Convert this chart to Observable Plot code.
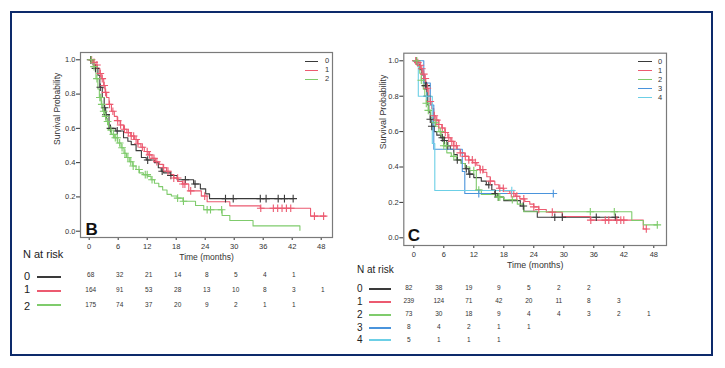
<!DOCTYPE html>
<html><head><meta charset="utf-8">
<script src="https://cdn.jsdelivr.net/npm/d3@7"></script>
<script src="https://cdn.jsdelivr.net/npm/@observablehq/plot@0.6"></script>
<style>
body{margin:0;background:#fff;font-family:"Liberation Sans",Arial,sans-serif;}
#root{position:relative;width:725px;height:368px;overflow:hidden;background:#fff;}
#border{position:absolute;left:10px;top:11px;width:703px;height:345px;border:2px solid #0d2a6b;box-sizing:border-box;}
.lab{position:absolute;white-space:nowrap;line-height:1;color:#222;}
.ln{position:absolute;}
</style></head><body><div id="root"><div id="border"></div></div>
<script>
// ---------- data ----------
const timeTicks = [0, 6, 12, 18, 24, 30, 36, 42, 48];
const survTicks = [0, 0.2, 0.4, 0.6, 0.8, 1.0];
const groupsB = ["0", "1", "2"];
const groupsC = ["0", "1", "2", "3", "4"];
const colorsB = ["#3a3a3a", "#ec5a70", "#7fcb6c"];
const colorsC = ["#3a3a3a", "#ec5a70", "#7fcb6c", "#4a94dc", "#6ccfe6"];

// Panel B Kaplan-Meier steps (time in months, survival), censor times
const b0T = [0, 0.8, 1.3, 1.8, 2.2, 2.7, 3.1, 3.4, 4.1, 5.5, 7.1, 8.0, 8.7, 9.7, 10.8, 11.8, 13.5, 14.3, 14.9, 15.4, 16.8, 18.2, 21.6, 23.0, 24.1, 24.9, 42.3];
const b0S = [1, 0.97, 0.95, 0.91, 0.84, 0.78, 0.72, 0.68, 0.60, 0.585, 0.545, 0.525, 0.505, 0.47, 0.43, 0.415, 0.40, 0.37, 0.35, 0.34, 0.325, 0.30, 0.275, 0.247, 0.218, 0.19, 0.19];
const b0C = [0.3, 1.3, 2.3, 3.2, 3.5, 4.4, 5.8, 12.1, 15.1, 16.9, 19.9, 21.9, 28.2, 29.8, 35.4, 36.6, 39.1, 40.4, 42.2];

const b1T = [0, 0.7, 1.2, 1.7, 2.2, 2.6, 3.0, 3.3, 3.6, 4.1, 4.6, 5.2, 5.8, 6.4, 7.1, 7.8, 8.6, 9.4, 10.0, 10.7, 11.4, 12.2, 13.0, 13.7, 14.5, 15.3, 16.0, 16.8, 17.5, 18.4, 19.3, 20.6, 23.2, 24.4, 29.1, 35.4, 45.8, 48.9];
const b1S = [1, 0.985, 0.97, 0.95, 0.92, 0.89, 0.85, 0.81, 0.78, 0.74, 0.70, 0.67, 0.645, 0.62, 0.595, 0.575, 0.555, 0.535, 0.51, 0.49, 0.465, 0.445, 0.425, 0.405, 0.39, 0.37, 0.35, 0.33, 0.31, 0.29, 0.275, 0.235, 0.205, 0.172, 0.148, 0.134, 0.088, 0.088];
const b1C = [0.5, 1.0, 1.6, 2.3, 2.7, 3.1, 3.4, 4.2, 4.9, 5.9, 6.5, 7.3, 8.1, 8.7, 9.2, 9.7, 10.1, 11.0, 12.0, 12.5, 13.4, 14.0, 15.4, 16.3, 17.5, 18.3, 19.4, 19.8, 21.0, 23.9, 35.5, 38.1, 39.0, 39.9, 40.8, 41.7, 46.6, 48.5];

const b2T = [0, 0.5, 0.9, 1.4, 1.8, 2.1, 2.5, 2.8, 3.2, 3.5, 4.0, 4.6, 5.2, 5.9, 6.6, 7.2, 7.7, 8.3, 9.0, 9.7, 10.4, 11.2, 12.1, 12.8, 13.5, 14.4, 15.2, 16.1, 17.0, 18.2, 19.4, 22.0, 23.7, 27.5, 29.1, 33.9, 43.6];
const b2S = [1, 0.99, 0.96, 0.89, 0.83, 0.78, 0.74, 0.70, 0.67, 0.64, 0.59, 0.565, 0.545, 0.515, 0.487, 0.455, 0.43, 0.405, 0.38, 0.36, 0.34, 0.33, 0.32, 0.30, 0.28, 0.26, 0.24, 0.215, 0.205, 0.193, 0.175, 0.15, 0.125, 0.092, 0.062, 0.031, 0.005];
const b2C = [0.4, 1.0, 1.6, 2.2, 2.4, 2.6, 3.0, 3.4, 3.8, 4.5, 5.0, 5.4, 5.8, 6.3, 6.8, 7.4, 8.0, 8.6, 9.1, 10.3, 11.6, 12.0, 13.0, 18.3, 19.5, 24.4, 25.1, 27.4];

// Panel C
const c0T = [0, 0.7, 1.2, 1.6, 2.0, 2.3, 2.6, 2.8, 3.0, 3.3, 3.6, 4.1, 4.6, 5.4, 6.0, 6.6, 7.3, 8.0, 8.7, 9.5, 10.3, 11.0, 12.0, 13.5, 14.5, 15.6, 16.2, 16.8, 18.0, 21.3, 22.0, 24.7, 41.0];
const c0S = [1, 0.98, 0.95, 0.92, 0.89, 0.86, 0.80, 0.75, 0.71, 0.67, 0.63, 0.60, 0.58, 0.565, 0.55, 0.52, 0.50, 0.47, 0.44, 0.42, 0.39, 0.36, 0.34, 0.32, 0.30, 0.27, 0.25, 0.23, 0.21, 0.18, 0.15, 0.116, 0.116];
const c0C = [0.5, 2.3, 2.5, 2.7, 3.3, 3.6, 5.7, 6.1, 6.8, 8.7, 10.5, 11.2, 15.0, 16.3, 16.9, 21.9, 28.2, 29.7, 36.5, 40.3];

const c1T = [0, 0.6, 1.0, 1.4, 1.8, 2.1, 2.4, 2.7, 3.0, 3.3, 3.6, 4.0, 4.4, 5.0, 5.6, 6.2, 6.8, 7.4, 8.0, 8.7, 9.3, 10.2, 11.0, 11.8, 12.6, 13.2, 13.9, 14.6, 15.3, 16.2, 17.0, 18.0, 19.2, 20.3, 21.2, 22.2, 23.2, 24.0, 25.0, 26.5, 29.7, 35.3, 45.9, 46.6];
const c1S = [1, 0.99, 0.975, 0.955, 0.925, 0.90, 0.875, 0.845, 0.80, 0.77, 0.73, 0.69, 0.665, 0.64, 0.62, 0.595, 0.565, 0.545, 0.52, 0.50, 0.48, 0.46, 0.44, 0.425, 0.41, 0.385, 0.37, 0.345, 0.32, 0.30, 0.28, 0.265, 0.25, 0.235, 0.22, 0.205, 0.19, 0.175, 0.16, 0.145, 0.12, 0.10, 0.05, 0.05];
const c1C = [0.4, 0.8, 1.3, 1.6, 2.0, 2.3, 2.7, 3.3, 4.1, 4.6, 5.0, 5.7, 6.3, 7.0, 7.6, 8.0, 8.5, 9.3, 10.3, 11.0, 11.7, 12.3, 13.3, 13.8, 15.3, 17.2, 17.9, 19.5, 20.0, 20.6, 22.0, 24.0, 25.0, 27.7, 35.4, 38.3, 39.0, 40.6, 41.4, 42.0, 46.5];

const c2T = [0, 0.8, 1.2, 1.5, 1.9, 2.2, 2.5, 2.9, 3.4, 3.9, 4.4, 5.0, 5.6, 6.0, 6.6, 7.5, 8.5, 9.5, 10.3, 11.2, 12.5, 13.5, 16.5, 18.0, 20.7, 22.0, 43.6, 45.9, 48.7];
const c2S = [1, 0.97, 0.93, 0.89, 0.84, 0.80, 0.76, 0.72, 0.68, 0.65, 0.63, 0.60, 0.57, 0.52, 0.48, 0.46, 0.44, 0.42, 0.40, 0.38, 0.27, 0.245, 0.23, 0.215, 0.19, 0.147, 0.098, 0.073, 0.073];
const c2C = [0.6, 1.5, 2.5, 2.9, 4.3, 5.3, 6.0, 6.5, 8.0, 12.0, 13.0, 16.9, 17.2, 19.7, 35.3, 40.1, 48.7];

const c3T = [0, 2.0, 3.3, 4.0, 9.7, 10.2, 27.9];
const c3S = [1, 0.875, 0.75, 0.5, 0.375, 0.25, 0.25];
const c3C = [13.0, 27.9];

const c4T = [0, 0.9, 3.7, 4.2, 19.6];
const c4S = [1, 0.8, 0.533, 0.267, 0.267];
const c4C = [2.6, 19.6];

// Numbers at risk (at 0, 6, 12, ... months)
const riskB0 = [68, 32, 21, 14, 8, 5, 4, 1];
const riskB1 = [164, 91, 53, 28, 13, 10, 8, 3, 1];
const riskB2 = [175, 74, 37, 20, 9, 2, 1, 1];
const riskC0 = [82, 38, 19, 9, 5, 2, 2];
const riskC1 = [239, 124, 71, 42, 20, 11, 8, 3];
const riskC2 = [73, 30, 18, 9, 4, 4, 3, 2, 1];
const riskC3 = [8, 4, 2, 1, 1];
const riskC4 = [5, 1, 1, 1];

// ---------- helpers ----------
const steps = (g, T, S) => T.map((t, i) => ({g, t, s: S[i]}));
const censor = (g, T, S, C) => C.map(c => {
  let s = S[0];
  for (let i = 0; i < T.length; i++) if (T[i] <= c) s = S[i];
  return {g, t: c, s};
});
const risk = (g, N) => N.map((n, i) => ({g, t: timeTicks[i], n}));

const FONT = "'Liberation Sans', Arial, Helvetica, sans-serif";
const root = document.getElementById("root");
function place(el, left, top) {
  el.style.position = "absolute"; el.style.left = left + "px"; el.style.top = top + "px";
  root.appendChild(el);
}
function label(text, x, yc, fs, color) {
  const d = document.createElement("div");
  d.className = "lab"; d.textContent = text;
  d.style.left = x + "px"; d.style.top = (yc - 0.4885 * fs) + "px";
  d.style.fontSize = fs + "px"; if (color) d.style.color = color;
  root.appendChild(d);
}
function hline(x1, x2, y, color, w) {
  const d = document.createElement("div");
  d.className = "ln"; d.style.left = Math.round(x1) + "px"; d.style.width = Math.round(x2 - x1) + "px";
  d.style.top = Math.round(y - w / 2) + "px"; d.style.height = w + "px"; d.style.background = color;
  root.appendChild(d);
}

function kmPlot({width, height, mL, mR, mT, mB, xDom, yDom, groups, colors, lines, cens, letter, letterDx, letterDy, ylabDx, fs}) {
  return Plot.plot({
    width, height, marginLeft: mL, marginRight: mR, marginTop: mT, marginBottom: mB,
    x: {domain: xDom},
    y: {domain: yDom},
    color: {domain: groups, range: colors},
    style: {fontFamily: FONT, fontSize: "7.5px", color: "#333", background: "transparent", overflow: "visible"},
    marks: [
      Plot.axisX({ticks: timeTicks, tickSize: 3, tickPadding: 3, label: null}),
      Plot.axisY({ticks: survTicks, tickFormat: d3.format(".1f"), tickSize: 4, tickPadding: 1, label: null}),
      Plot.line(lines, {x: "t", y: "s", z: "g", stroke: "g", curve: "step-after", strokeWidth: 1.1}),
      Plot.dot(cens, {x: "t", y: "s", stroke: "g", symbol: "plus", r: 2.6, strokeWidth: 1.1}),
      Plot.frame({stroke: "#7a7a7a", strokeWidth: 1.2}),
      Plot.text(["Survival Probability"], {text: d => d, frameAnchor: "left", dx: ylabDx, rotate: -90, fontSize: fs, fill: "#333"}),
      Plot.text(["Time (months)"], {text: d => d, frameAnchor: "bottom", dy: 22, fontSize: fs, fill: "#333"}),
      Plot.text([letter], {text: d => d, frameAnchor: "bottom-left", dx: letterDx, dy: letterDy, textAnchor: "start", lineAnchor: "bottom", fontSize: 17, fontWeight: "bold", fill: "#111"})
    ]
  });
}

function riskPlot({width, height, mL, mR, xDom, groups, yRange, data, dx}) {
  return Plot.plot({
    width, height, marginLeft: mL, marginRight: mR, marginTop: 0, marginBottom: 0,
    x: {domain: xDom, axis: null},
    y: {type: "point", domain: groups, range: yRange, padding: 0, axis: null},
    style: {fontFamily: FONT, background: "transparent", overflow: "visible"},
    marks: [
      Plot.text(data, {x: "t", y: "g", text: "n", dx, fontSize: 6.5, fill: "#333"})
    ]
  });
}

// ---------- Panel B ----------
const linesB = [...steps("0", b0T, b0S), ...steps("1", b1T, b1S), ...steps("2", b2T, b2S)];
const censB = [...censor("0", b0T, b0S, b0C), ...censor("1", b1T, b1S, b1C), ...censor("2", b2T, b2S, b2C)];
const xDomB = [-1.8, 50.34];
const plotB = kmPlot({width: 360, height: 265, mL: 80, mR: 28, mT: 52, mB: 28,
  xDom: xDomB, yDom: [-0.0368, 1.0426], groups: groupsB, colors: colorsB,
  lines: linesB, cens: censB, letter: "B", letterDx: 5, letterDy: -2.7, ylabDx: -23, fs: 8.5});
place(plotB, 0, 0);

const riskDataB = [...risk("0", riskB0), ...risk("1", riskB1), ...risk("2", riskB2)];
place(riskPlot({width: 360, height: 52, mL: 80, mR: 28, xDom: xDomB, groups: groupsB,
  yRange: [11.7, 42.8], data: riskDataB, dx: 1.5}), 0, 262);

// ---------- Panel C ----------
const linesC = [...steps("0", c0T, c0S), ...steps("1", c1T, c1S), ...steps("2", c2T, c2S), ...steps("3", c3T, c3S), ...steps("4", c4T, c4S)];
const censC = [...censor("0", c0T, c0S, c0C), ...censor("1", c1T, c1S, c1C), ...censor("2", c2T, c2S, c2C), ...censor("3", c3T, c3S, c3C), ...censor("4", c4T, c4S, c4C)];
const xDomC = [-2.0, 50.54];
const plotC = kmPlot({width: 365, height: 275, mL: 43.3, mR: 59, mT: 52.7, mB: 30,
  xDom: xDomC, yDom: [-0.0435, 1.043], groups: groupsC, colors: colorsC,
  lines: linesC, cens: censC, letter: "C", letterDx: 4, letterDy: -4.3, ylabDx: -20.6, fs: 8.8});
place(plotC, 360, 0);

const riskDataC = [...risk("0", riskC0), ...risk("1", riskC1), ...risk("2", riskC2), ...risk("3", riskC3), ...risk("4", riskC4)];
place(riskPlot({width: 365, height: 70, mL: 43.3, mR: 59, xDom: xDomC, groups: groupsC,
  yRange: [10.8, 64.2], data: riskDataC, dx: -5}), 360, 275);

// ---------- legends & risk-table labels ----------
const legYB = [61, 70, 79];
groupsB.forEach((g, i) => { hline(305, 318, legYB[i], colorsB[i], 1); label(g, 325, legYB[i], 7.5, "#333"); });
const legYC = [61.7, 70.7, 79.3, 88.3, 97.7];
groupsC.forEach((g, i) => { hline(638, 652, legYC[i], colorsC[i], 1); label(g, 658, legYC[i], 7.5, "#333"); });

label("N at risk", 23, 254.7, 11);
const rowYB = [276.7, 289.5, 306];
const lineYB = [277, 291, 305.3];
groupsB.forEach((g, i) => { label(g, 24, rowYB[i], 11); hline(36.7, 61, lineYB[i], colorsB[i], 2); });

label("N at risk", 357, 269.5, 10);
const rowYC = [289, 302, 315, 328, 340];
const lineYC = [289, 301.7, 315, 327.7, 340];
groupsC.forEach((g, i) => { label(g, 357, rowYC[i], 10); hline(369, 391.3, lineYC[i], colorsC[i], 2); });
</script></body></html>
